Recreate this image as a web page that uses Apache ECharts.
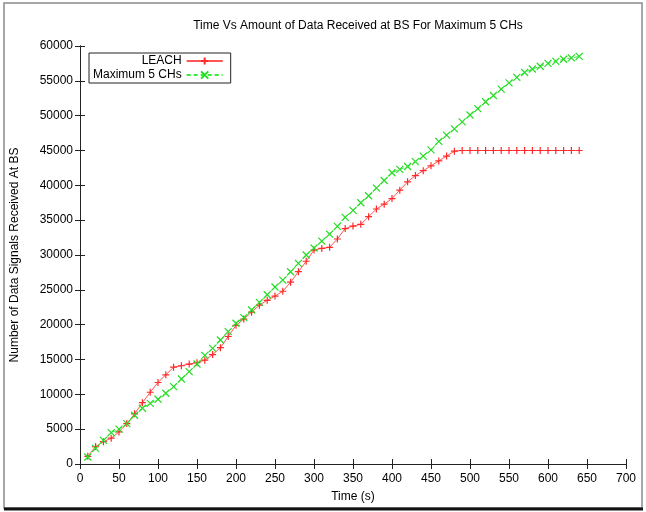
<!DOCTYPE html>
<html>
<head>
<meta charset="utf-8">
<script src="https://cdn.jsdelivr.net/npm/echarts@6/dist/echarts.min.js"></script>
<style>
html,body{margin:0;padding:0;background:#fff;}
#chart{width:646px;height:512px;}
</style>
</head>
<body>
<div id="chart"></div>
<script>
var chartTitle = 'Time Vs Amount of Data Received at BS For Maximum 5 CHs';
var xName = 'Time (s)';
var yName = 'Number of Data Signals Received At BS';
var seriesNames = ['LEACH', 'Maximum 5 CHs'];
var times = [10,20,30,40,50,60,70,80,90,100,110,120,130,140,150,160,170,180,190,200,
  210,220,230,240,250,260,270,280,290,300,310,320,330,340,350,360,370,380,390,400,
  410,420,430,440,450,460,470,480,490,500,510,520,530,540,550,560,570,580,590,600,
  610,620,630,640];
var leach = [1100,2500,3200,3700,4600,5800,7200,8800,10300,11700,12800,13900,14100,14350,14550,14900,15700,16700,18300,19900,
  20800,21800,22800,23500,24100,24800,26100,27600,29100,30700,30950,31100,32300,33800,34150,34400,35500,36600,37300,38100,
  39300,40500,41400,42100,42800,43500,44200,44900,45000,45000,45000,45000,45000,45000,45000,45000,45000,45000,45000,45000,
  45000,45000,45000,45000];
var max5 = [1000,2250,3400,4500,5000,5800,7000,8000,8700,9300,10150,11100,12200,13250,14350,15600,16600,17800,19000,20200,
  21000,22100,23200,24300,25400,26400,27600,28800,30000,31000,32000,33000,34100,35400,36400,37500,38500,39600,40700,41800,
  42300,42700,43400,44200,45100,46300,47200,48100,49100,50100,51000,52000,52900,53800,54700,55500,56200,56700,57100,57500,
  57800,58100,58300,58500];

function pairs(xs, ys){ return xs.map(function(x,i){ return [x, ys[i]]; }); }
function plain(v){ return String(v); }

var FONT = 'Liberation Sans';
var chart = echarts.init(document.getElementById('chart'), null, {renderer:'canvas'});
var axisLine = {show:true, lineStyle:{color:'#222', width:1}};
var tick = {show:true, inside:true, length:5, lineStyle:{color:'#222'}};
var option = {
  animation:false,
  backgroundColor:'#fff',
  textStyle:{fontFamily:FONT},
  title:{text:chartTitle, left:353, textAlign:'center', top:15,
    textStyle:{fontFamily:FONT, fontSize:12, fontWeight:'normal', color:'#000'}},
  grid:{left:80, right:20, top:46, bottom:48},
  legend:{
    left:89, top:53, orient:'vertical', align:'right',
    itemWidth:36, itemHeight:9, itemGap:2,
    padding:[2,7,2,4],
    borderColor:'#222', borderWidth:1,
    textStyle:{fontFamily:FONT, fontSize:12, color:'#000', width:92, align:'right'},
    data:seriesNames
  },
  xAxis:[{
    type:'value', min:0, max:700, interval:50,
    name:xName, nameLocation:'middle', nameGap:27,
    nameTextStyle:{fontFamily:FONT, fontSize:12, color:'#000'},
    axisLine:axisLine, axisTick:tick, splitLine:{show:false},
    axisLabel:{fontFamily:FONT, fontSize:12, color:'#000', margin:9, formatter:plain}
  },{
    type:'value', min:0, max:700, interval:50, position:'top',
    axisLine:axisLine, axisTick:tick, splitLine:{show:false}, axisLabel:{show:false}
  }],
  yAxis:[{
    type:'value', min:0, max:60000, interval:5000,
    name:yName, nameLocation:'middle', nameGap:59,
    nameTextStyle:{fontFamily:FONT, fontSize:12, color:'#000'},
    axisLine:axisLine, axisTick:tick, splitLine:{show:false},
    axisLabel:{fontFamily:FONT, fontSize:12, color:'#000', margin:7, formatter:plain}
  },{
    type:'value', min:0, max:60000, interval:5000, position:'right',
    axisLine:axisLine, axisTick:tick, splitLine:{show:false}, axisLabel:{show:false}
  }],
  series:[{
    name:seriesNames[0], type:'line', data:pairs(times, leach),
    symbol:'path://M0,5L10,5M5,0L5,10', symbolSize:7, showAllSymbol:true,
    lineStyle:{color:'#ff5555', width:1},
    itemStyle:{color:'#ff2a2a', borderColor:'#ff2a2a', borderWidth:1.2}
  },{
    name:seriesNames[1], type:'line', data:pairs(times, max5),
    symbol:'path://M0,0L10,10M10,0L0,10', symbolSize:7, showAllSymbol:true,
    lineStyle:{color:'#33ee33', width:1, type:[4,3]},
    itemStyle:{color:'#22dd22', borderColor:'#22dd22', borderWidth:1.2}
  }],
  graphic:[
    {type:'rect', shape:{x:4, y:3, width:638, height:505}, style:{fill:'none', stroke:'#8a8a8a', lineWidth:1.5}, silent:true, z:-1},
    {type:'line', shape:{x1:4, y1:509, x2:643, y2:509}, style:{stroke:'#111', lineWidth:3}, silent:true}
  ]
};
chart.setOption(option);
</script>
</body>
</html>
